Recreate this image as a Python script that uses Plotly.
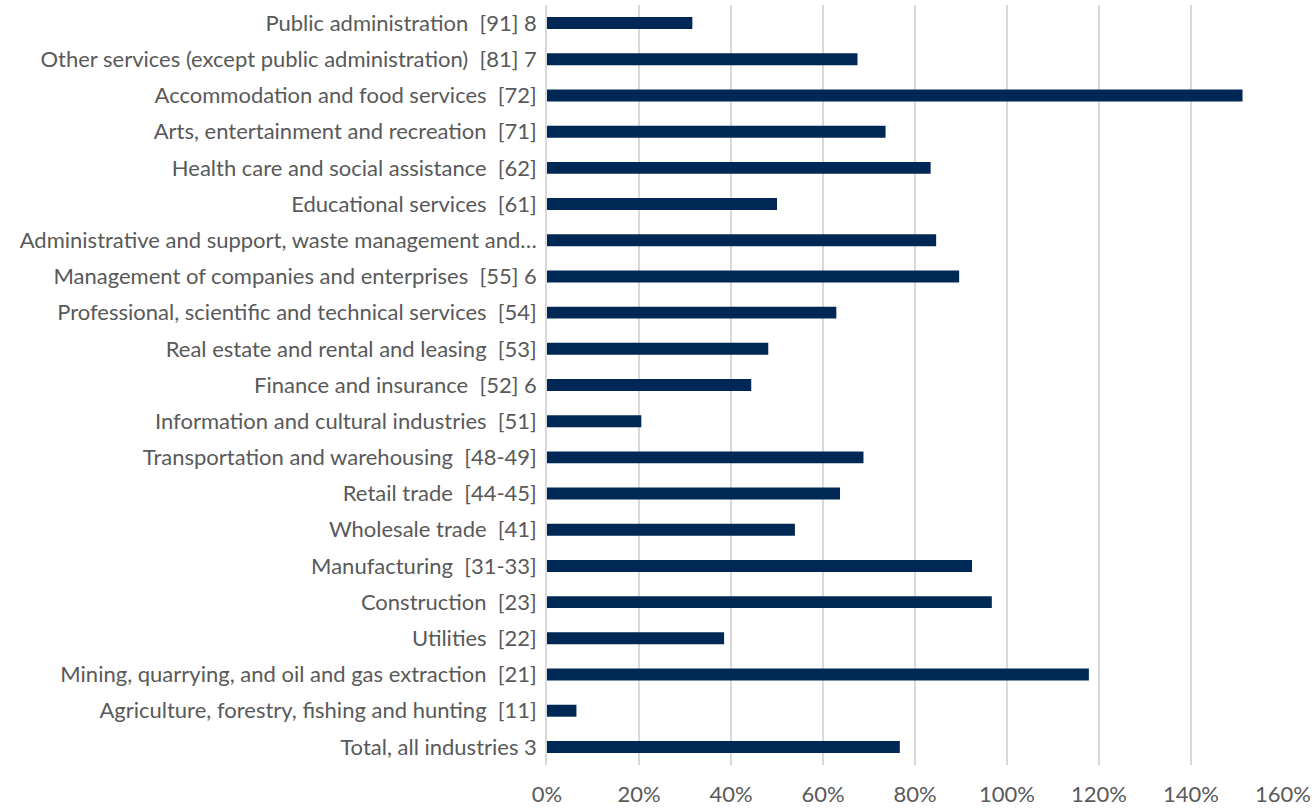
import plotly.graph_objects as go

# Industry categories, listed bottom to top
industries = [
    "Total, all industries 3",
    "Agriculture, forestry, fishing and hunting\u00a0 [11]",
    "Mining, quarrying, and oil and gas extraction\u00a0 [21]",
    "Utilities\u00a0 [22]",
    "Construction\u00a0 [23]",
    "Manufacturing\u00a0 [31-33]",
    "Wholesale trade\u00a0 [41]",
    "Retail trade\u00a0 [44-45]",
    "Transportation and warehousing\u00a0 [48-49]",
    "Information and cultural industries\u00a0 [51]",
    "Finance and insurance\u00a0 [52] 6",
    "Real estate and rental and leasing\u00a0 [53]",
    "Professional, scientific and technical services\u00a0 [54]",
    "Management of companies and enterprises\u00a0 [55] 6",
    "Administrative and support, waste management and\u2026",
    "Educational services\u00a0 [61]",
    "Health care and social assistance\u00a0 [62]",
    "Arts, entertainment and recreation\u00a0 [71]",
    "Accommodation and food services\u00a0 [72]",
    "Other services (except public administration)\u00a0 [81] 7",
    "Public administration\u00a0 [91] 8",
]

# Share values (as fractions)
values = [
    0.767, 0.064, 1.178, 0.385, 0.967, 0.924, 0.539, 0.637, 0.688, 0.205,
    0.444, 0.481, 0.629, 0.896, 0.846, 0.500, 0.834, 0.736, 1.512, 0.675,
    0.316,
]

x_ticks = [0, 0.2, 0.4, 0.6, 0.8, 1.0, 1.2, 1.4, 1.6]
x_tick_labels = ["0%", "20%", "40%", "60%", "80%", "100%", "120%", "140%", "160%"]

family = "Lato, 'Open Sans', sans-serif"
y_label_font = dict(family=family, size=22, color="#595959")
x_label_font = dict(family=family, size=22, color="#595959")

fig = go.Figure(
    go.Bar(
        x=values,
        y=industries,
        orientation="h",
        width=0.33,
        marker=dict(color="#002855", line=dict(width=0)),
        hoverinfo="x+y",
    )
)

fig.update_layout(
    width=1315,
    height=808,
    margin=dict(l=547, r=32, t=5, b=43),
    plot_bgcolor="white",
    paper_bgcolor="white",
    showlegend=False,
    font=y_label_font,
)

fig.update_xaxes(
    range=[0, 1.6],
    tickvals=x_ticks,
    ticktext=x_tick_labels,
    showgrid=True,
    gridcolor="#d9d9d9",
    gridwidth=1.5,
    zeroline=False,
    showline=False,
    ticks="",
    ticklabelstandoff=14,
    tickfont=x_label_font,
    automargin=False,
)

fig.update_yaxes(
    categoryorder="array",
    categoryarray=industries,
    showline=True,
    linecolor="#d9d9d9",
    linewidth=1.5,
    ticks="",
    ticklabelstandoff=4,
    tickfont=y_label_font,
    automargin=False,
    range=[-0.5, len(industries) - 0.5],
)

fig.write_html("out.html")
